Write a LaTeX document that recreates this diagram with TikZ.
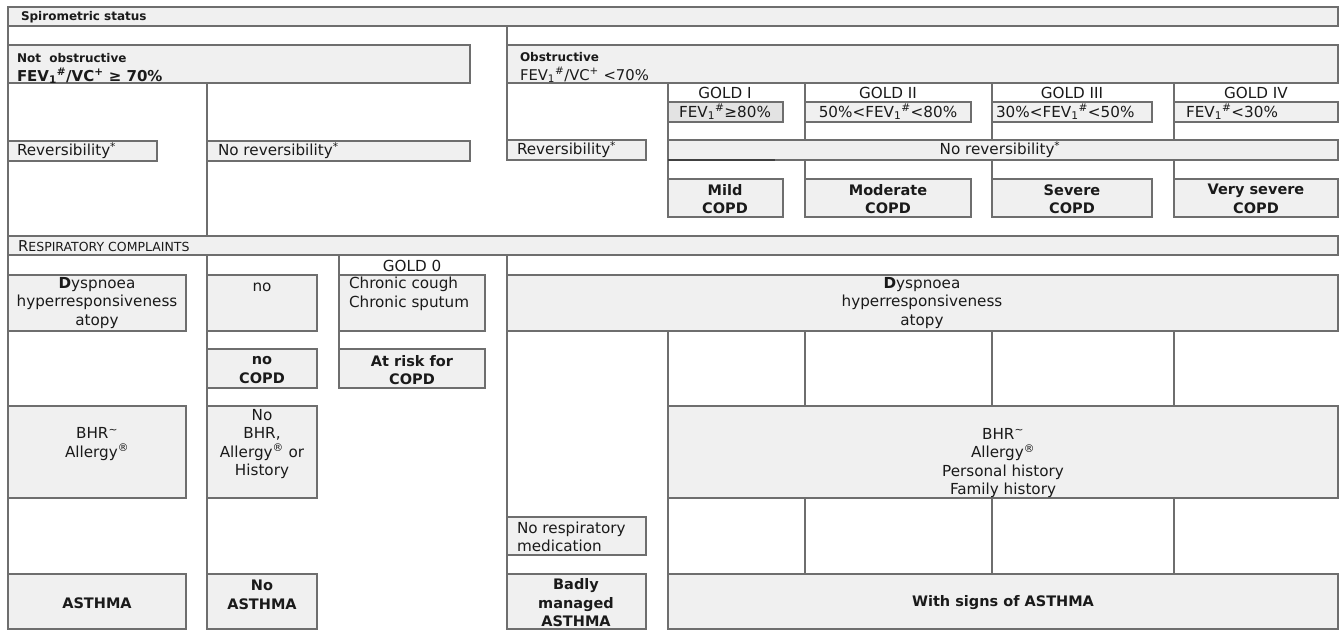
\documentclass[tikz,border=0pt]{standalone}
\usepackage{fontspec}
\setmainfont{DejaVu Sans}
\usetikzlibrary{calc}
\definecolor{boxfill}{HTML}{F0F0F0}
\definecolor{boxfilldark}{HTML}{E3E3E3}
\definecolor{edge}{HTML}{6E6E6E}
\definecolor{ink}{HTML}{1A1A1A}
\newcommand\ftreg{\fontsize{15.2}{18.5}\selectfont}
\newcommand\ftbold{\fontsize{14.5}{18.5}\selectfont\bfseries}
\newcommand\ftsmallbold{\fontsize{12}{14}\selectfont\bfseries}
% box: name, x1, y1, x2, y2 (pixels, y downwards)
\newcommand\mybox[6][]{%
  \node[box,#1,minimum width=\the\numexpr#5-#3\relax pt,minimum height=\the\numexpr#6-#4\relax pt] (#2) at (#3,#4) {};}
\begin{document}
\begin{tikzpicture}[x=1pt,y=-1pt,
  box/.style={draw=edge,fill=boxfill,line width=1.3pt,inner sep=0pt,outer sep=0pt,anchor=north west},
  darkbox/.style={fill=boxfilldark},
  conn/.style={draw=edge,line width=1.3pt},
  darkline/.style={draw=black!75,line width=1.6pt},
  txt/.style={inner sep=0pt,outer sep=0pt,text=ink,align=center,font=\ftreg},
  btxt/.style={txt,font=\ftbold},
  ltxt/.style={txt,anchor=west,align=left}]
\fill[white] (0,0) rectangle (1344,632);
\useasboundingbox (0,0) rectangle (1344,632);

% ---------- boxes: spirometric part ----------
\mybox{spiro}{8}{7}{1338}{26}
\mybox{notobs}{8}{45}{470}{83}
\mybox{obs}{507}{45}{1338}{83}
\mybox[darkbox]{fevA}{668}{102}{783}{122}
\mybox{fevB}{805}{102}{971}{122}
\mybox{fevC}{992}{102}{1152}{122}
\mybox{fevD}{1174}{102}{1338}{122}
\mybox{revL}{8}{141}{157}{161}
\mybox{noRevL}{207}{141}{470}{161}
\mybox{revO}{507}{140}{646}{160}
\mybox{noRevR}{668}{140}{1338}{160}
\mybox{mild}{668}{179}{783}{217}
\mybox{moderate}{805}{179}{971}{217}
\mybox{severe}{992}{179}{1152}{217}
\mybox{vsevere}{1174}{179}{1338}{217}

% ---------- boxes: respiratory part ----------
\mybox{resp}{8}{236}{1338}{255}
\mybox{dysL}{8}{275}{186}{331}
\mybox{noBox}{207}{275}{317}{331}
\mybox{chronic}{339}{275}{485}{331}
\mybox{noCOPD}{207}{349}{317}{388}
\mybox{atRisk}{339}{349}{485}{388}
\mybox{dysR}{507}{275}{1338}{331}
\mybox{bhrL}{8}{406}{186}{498}
\mybox{noBHR}{207}{406}{317}{498}
\mybox{bhrR}{668}{406}{1338}{498}
\mybox{noMed}{507}{517}{646}{555}
\mybox{asthma}{8}{574}{186}{629}
\mybox{noAsthma}{207}{574}{317}{629}
\mybox{badly}{507}{574}{646}{629}
\mybox{signs}{668}{574}{1338}{629}

% ---------- connectors: upper part ----------
\draw[conn] (spiro.south west) -- (notobs.north west);
\draw[conn] (obs.north west |- spiro.south) -- (obs.north west);
\draw[conn] (notobs.south west) -- (revL.north west);
\draw[conn] (revL.south west) -- (resp.north west);
\draw[conn] (noRevL.north west |- notobs.south) -- (noRevL.north west);
\draw[conn] (noRevL.south west) -- (noRevL.south west |- resp.north);
\draw[conn] (obs.south west) -- (revO.north west);
\foreach \f/\c in {fevA/mild,fevB/moderate,fevC/severe,fevD/vsevere}{
  \draw[conn] (\f.north west |- obs.south) -- (\f.north west);
  \draw[conn] (\f.south west) -- (\f.south west |- noRevR.north);
  \draw[conn] (\c.north west |- noRevR.south) -- (\c.north west);
}
\draw[darkline] (noRevR.south west) -- ++(107,0);

% ---------- connectors: lower part ----------
\draw[conn] (resp.south west) -- (dysL.north west);
\draw[conn] (dysL.south west) -- (bhrL.north west);
\draw[conn] (bhrL.south west) -- (asthma.north west);
\draw[conn] (noBox.north west |- resp.south) -- (noBox.north west);
\draw[conn] (noBox.south west) -- (noCOPD.north west);
\draw[conn] (noCOPD.south west) -- (noBHR.north west);
\draw[conn] (noBHR.south west) -- (noAsthma.north west);
\draw[conn] (chronic.north west |- resp.south) -- (chronic.north west);
\draw[conn] (chronic.south west) -- (atRisk.north west);
\draw[conn] (dysR.north west |- resp.south) -- (dysR.north west);
\draw[conn] (dysR.south west) -- (noMed.north west);
\draw[conn] (noMed.south west) -- (badly.north west);
\draw[conn] (bhrR.north west |- dysR.south) -- (bhrR.north west);
\draw[conn] (bhrR.south west) -- (signs.north west);
\foreach \c in {moderate,severe,vsevere}{
  \draw[conn] (\c.south west |- dysR.south) -- (\c.south west |- bhrR.north);
  \draw[conn] (\c.south west |- bhrR.south) -- (\c.south west |- signs.north);
}

% ---------- texts: upper part ----------
\node[ltxt,font=\ftsmallbold] (spiroT) at (21,17) {Spirometric status};
\node[ltxt,font=\ftsmallbold] (notobsT) at (17,58) {Not\ \ obstructive};
\node[ltxt,font=\fontsize{15}{18}\selectfont\bfseries] (notobsF) at (17,76) {FEV\textsubscript{1}\textsuperscript{\#}/VC\textsuperscript{+} ≥ 70\%};
\node[ltxt,font=\ftsmallbold] (obsT) at (520,57) {Obstructive};
\node[ltxt,font=\fontsize{14.8}{18}\selectfont] (obsF) at (520,75) {FEV\textsubscript{1}\textsuperscript{\#}/VC\textsuperscript{+} <70\%};
\node[txt] (g1) at (725,93) {GOLD I};
\node[txt] (g2) at (888,93) {GOLD II};
\node[txt] (g3) at (1072,93) {GOLD III};
\node[txt] (g4) at (1256,93) {GOLD IV};
\node[txt] (fevAT) at (725,112) {FEV\textsubscript{1}\textsuperscript{\#}≥80\%};
\node[txt] (fevBT) at (888,112) {50\%<FEV\textsubscript{1}\textsuperscript{\#}<80\%};
\node[ltxt] (fevCT) at (996,112) {30\%<FEV\textsubscript{1}\textsuperscript{\#}<50\%};
\node[ltxt] (fevDT) at (1186,112) {FEV\textsubscript{1}\textsuperscript{\#}<30\%};
\node[ltxt] (revLT) at (17,151) {Reversibility\textsuperscript{*}};
\node[ltxt] (noRevLT) at (218,151) {No reversibility\textsuperscript{*}};
\node[ltxt] (revOT) at (517,150) {Reversibility\textsuperscript{*}};
\node[txt] (noRevRT) at (1000,150) {No reversibility\textsuperscript{*}};
\node[btxt] (mildT) at (725,199) {Mild\\COPD};
\node[btxt] (moderateT) at (888,199) {Moderate\\COPD};
\node[btxt] (severeT) at (1072,199) {Severe\\COPD};
\node[btxt] (vsevereT) at (1256,199) {Very severe\\COPD};

% ---------- texts: lower part ----------
\node[ltxt] (respT) at (18,246) {{\fontsize{15}{16}\selectfont R}{\fontsize{12.5}{14}\selectfont ESPIRATORY COMPLAINTS}};
\node[txt] (dysLT) at (97,303) {{\bfseries D}yspnoea\\hyperresponsiveness\\atopy};
\node[txt] (noBoxT) at (262,287) {no};
\node[txt] (gold0T) at (412,266) {GOLD 0};
\node[ltxt] (chronicT) at (349,294) {Chronic cough\\Chronic sputum};
\node[btxt] (noCOPDT) at (262,370) {no\\COPD};
\node[btxt] (atRiskT) at (412,370) {At risk for\\COPD};
\node[txt] (dysRT) at (922,303) {{\bfseries D}yspnoea\\hyperresponsiveness\\atopy};
\node[txt] (bhrLT) at (97,444) {BHR\textsuperscript{\textasciitilde}\\Allergy\textsuperscript{®}};
\node[txt] (noBHRT) at (262,444) {No\\BHR,\\Allergy\textsuperscript{®} or\\History};
\node[txt] (bhrRT) at (1003,463) {BHR\textsuperscript{\textasciitilde}\\Allergy\textsuperscript{®}\\Personal history\\Family history};
\node[ltxt] (noMedT) at (517,537) {No respiratory\\medication};
\node[btxt] (asthmaT) at (97,603) {ASTHMA};
\node[btxt] (noAsthmaT) at (262,595) {No\\ASTHMA};
\node[btxt] (badlyT) at (576,603) {Badly\\managed\\ASTHMA};
\node[btxt] (signsT) at (1003,603) {With signs of ASTHMA};
\end{tikzpicture}
\end{document}
